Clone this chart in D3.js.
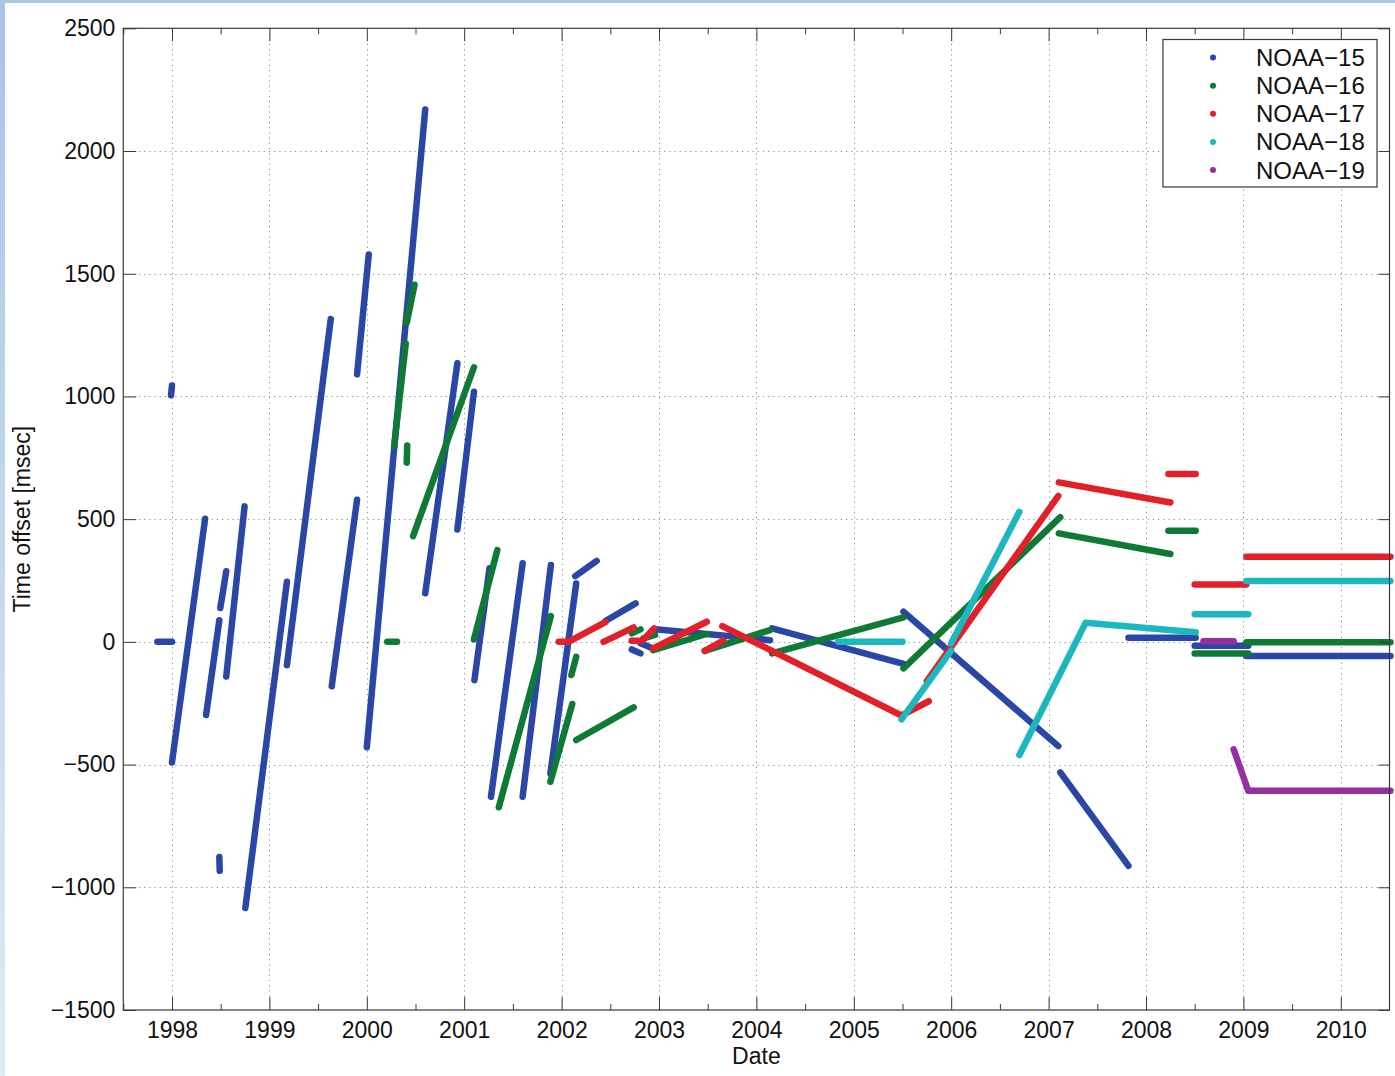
<!DOCTYPE html>
<html>
<head>
<meta charset="utf-8">
<script src="https://cdn.jsdelivr.net/npm/d3@7/dist/d3.min.js"></script>
<style>
  html, body { margin: 0; padding: 0; background: #ffffff; }
  svg { display: block; }
  text { font-family: "Liberation Sans", Arial, Helvetica, sans-serif; fill: #111; }
</style>
</head>
<body>
<svg id="chart" width="1395" height="1076"></svg>
<script>
// Satellite clock time offsets, one array of runs per satellite.
// Each run is a list of [decimal year, offset in msec] points.
const noaa15 = [
  [[1997.85, 0], [1998.0, 0]],
  [[1997.99, 1005], [1998.0, 1045]],
  [[1998.0, -491], [1998.34, 502]],
  [[1998.35, -298], [1998.486, 88]],
  [[1998.496, 138], [1998.557, 288]],
  [[1998.557, -141], [1998.745, 552]],
  [[1998.486, -877], [1998.49, -933]],
  [[1998.753, -1084], [1999.18, 245]],
  [[1999.18, -95], [1999.63, 1315]],
  [[1999.64, -181], [1999.90, 579]],
  [[1999.90, 1090], [2000.02, 1578]],
  [[2000.0, -429], [2000.60, 2169]],
  [[2000.60, 198], [2000.93, 1135]],
  [[2000.93, 458], [2001.10, 1019]],
  [[2001.105, -156], [2001.26, 300]],
  [[2001.275, -631], [2001.60, 320]],
  [[2001.60, -631], [2001.89, 313]],
  [[2001.885, -536], [2002.15, 238]],
  [[2002.14, 268], [2002.36, 330]],
  [[2002.45, 85], [2002.76, 157]],
  [[2002.72, -31], [2002.81, -47]],
  [[2002.81, -6], [2002.94, -27]],
  [[2002.96, 51], [2003.49, 32], [2004.14, 7]],
  [[2004.16, 55], [2005.51, -90]],
  [[2005.51, 123], [2007.10, -425]],
  [[2007.12, -532], [2007.82, -913]],
  [[2007.82, 17], [2008.51, 17]],
  [[2008.50, -16], [2009.05, -16]],
  [[2009.03, -58], [2010.51, -58]]
];

const noaa16 = [
  [[2000.21, 0], [2000.31, 0]],
  [[2000.28, 795], [2000.40, 1215]],
  [[2000.41, 1300], [2000.49, 1455]],
  [[2000.41, 730], [2000.415, 800]],
  [[2000.475, 431], [2001.10, 1119]],
  [[2001.10, 10], [2001.34, 374]],
  [[2001.355, -674], [2001.89, 105]],
  [[2001.885, -570], [2002.11, -253]],
  [[2002.10, -135], [2002.15, -61]],
  [[2002.15, -400], [2002.74, -267]],
  [[2002.72, 35], [2002.81, 51]],
  [[2002.84, 14], [2002.96, 28]],
  [[2002.94, -34], [2003.49, 32]],
  [[2003.47, -37], [2004.14, 48]],
  [[2004.16, -47], [2005.51, 100]],
  [[2005.51, -108], [2007.12, 508]],
  [[2007.105, 442], [2008.25, 358]],
  [[2008.23, 453], [2008.51, 453]],
  [[2008.50, -47], [2009.05, -47]],
  [[2009.03, -2], [2010.51, -2]]
];

const noaa17 = [
  [[2001.97, 0], [2002.07, 0], [2002.45, 80]],
  [[2002.43, 0], [2002.74, 59]],
  [[2002.72, 5], [2002.83, 5], [2002.95, 55]],
  [[2002.94, -27], [2003.49, 82]],
  [[2003.47, -37], [2003.66, 5]],
  [[2003.65, 64], [2005.49, -300], [2005.77, -242]],
  [[2005.75, -160], [2007.10, 595]],
  [[2007.105, 650], [2008.25, 568]],
  [[2008.23, 684], [2008.51, 684]],
  [[2008.50, 234], [2009.03, 234]],
  [[2009.03, 347], [2010.51, 347]]
];

const noaa18 = [
  [[2004.84, 0], [2005.50, 0]],
  [[2005.49, -316], [2006.0, -36]],
  [[2006.0, -6], [2006.70, 530]],
  [[2006.70, -461], [2007.38, 78], [2008.51, 39]],
  [[2008.50, 113], [2009.05, 113]],
  [[2009.03, 248], [2010.51, 248]]
];

const noaa19 = [
  [[2008.59, 3], [2008.90, 3]],
  [[2008.90, -438], [2009.05, -607], [2010.51, -607]]
];

const seriesNames = ["NOAA\u221215", "NOAA\u221216", "NOAA\u221217", "NOAA\u221218", "NOAA\u221219"];
const seriesData = [noaa15, noaa16, noaa17, noaa18, noaa19];
const seriesColors = ["#2a47a6", "#0f7a35", "#e2202a", "#1cb8bf", "#9630a0"];

const yearTicks = [1998, 1999, 2000, 2001, 2002, 2003, 2004, 2005, 2006, 2007, 2008, 2009, 2010];
const halfYearTicks = [1997.5, 1998.5, 1999.5, 2000.5, 2001.5, 2002.5, 2003.5, 2004.5, 2005.5, 2006.5, 2007.5, 2008.5, 2009.5];
const offsetTicks = [-1500, -1000, -500, 0, 500, 1000, 1500, 2000, 2500];

const xLabel = "Date";
const yLabel = "Time offset [msec]";

// ---- layout ----
const W = 1395, H = 1076;
const plot = { left: 123.3, right: 1389.5, top: 28.3, bottom: 1010 };

const svg = d3.select("#chart");

// page background with the pale blue frame along the top and left
const defs = svg.append("defs");
const grad = defs.append("linearGradient").attr("id", "edge").attr("x1", 0).attr("y1", 0).attr("x2", 0).attr("y2", 1);
grad.append("stop").attr("offset", "0%").attr("stop-color", "#a7c5e6");
grad.append("stop").attr("offset", "100%").attr("stop-color", "#e2e9f4");
svg.append("rect").attr("width", W).attr("height", H).attr("fill", "#ffffff");
svg.append("rect").attr("x", 0).attr("y", 0).attr("width", 5).attr("height", H).attr("fill", "url(#edge)");
svg.append("rect").attr("x", 0).attr("y", 0).attr("width", W).attr("height", 3).attr("fill", "#a9c6e6");

const x = d3.scaleLinear().domain([1997.5, 2010.5]).range([plot.left, plot.right]);
const y = d3.scaleLinear().domain([-1500, 2500]).range([plot.bottom, plot.top]);

// dotted grid
const grid = svg.append("g").attr("stroke", "#8c8c8c").attr("stroke-width", 1)
  .attr("stroke-dasharray", "1.2,4").attr("fill", "none");
grid.selectAll("line.v").data(yearTicks).join("line").attr("class", "v")
  .attr("x1", d => Math.round(x(d)) + 0.5).attr("x2", d => Math.round(x(d)) + 0.5)
  .attr("y1", plot.top).attr("y2", plot.bottom);
grid.selectAll("line.h").data(offsetTicks.slice(1, -1)).join("line").attr("class", "h")
  .attr("y1", d => Math.round(y(d)) + 0.5).attr("y2", d => Math.round(y(d)) + 0.5)
  .attr("x1", plot.left).attr("x2", plot.right);

// data runs
const line = d3.line().x(d => x(d[0])).y(d => y(d[1]));
const marks = svg.append("g").attr("fill", "none").attr("stroke-width", 6.5)
  .attr("stroke-linecap", "round").attr("stroke-linejoin", "round");
seriesData.forEach((runs, i) => {
  marks.append("g").attr("stroke", seriesColors[i])
    .selectAll("path").data(runs).join("path").attr("d", line);
});

// axes, ticks pointing inward on all four sides
const axisColor = "#3a3a3a";
function styleAxis(g) {
  g.select(".domain").remove();
  g.selectAll(".tick line").attr("stroke", axisColor);
  g.selectAll(".tick text").attr("fill", "#111").style("font-size", "23px")
    .style("font-family", "'Liberation Sans', Arial, Helvetica, sans-serif");
}

svg.append("g").attr("transform", `translate(0,${plot.bottom})`)
  .call(d3.axisBottom(x).tickValues(yearTicks).tickFormat(d3.format("d")).tickSize(-13).tickPadding(11.5))
  .call(styleAxis);
svg.append("g").attr("transform", `translate(0,${plot.bottom})`)
  .call(d3.axisBottom(x).tickValues(halfYearTicks).tickFormat("").tickSize(-6))
  .call(styleAxis);
svg.append("g").attr("transform", `translate(0,${plot.top})`)
  .call(d3.axisTop(x).tickValues(yearTicks).tickFormat("").tickSize(-13))
  .call(styleAxis);
svg.append("g").attr("transform", `translate(0,${plot.top})`)
  .call(d3.axisTop(x).tickValues(halfYearTicks).tickFormat("").tickSize(-6))
  .call(styleAxis);
svg.append("g").attr("transform", `translate(${plot.left},0)`)
  .call(d3.axisLeft(y).tickValues(offsetTicks).tickFormat(d3.format("d")).tickSize(-13).tickPadding(8))
  .call(styleAxis);
svg.append("g").attr("transform", `translate(${plot.right},0)`)
  .call(d3.axisRight(y).tickValues(offsetTicks).tickFormat("").tickSize(-11))
  .call(styleAxis);

// plot box
svg.append("rect")
  .attr("x", plot.left).attr("y", plot.top)
  .attr("width", plot.right - plot.left).attr("height", plot.bottom - plot.top)
  .attr("fill", "none").attr("stroke", axisColor).attr("stroke-width", 1.2);

// axis titles
svg.append("text").attr("x", (plot.left + plot.right) / 2).attr("y", 1064)
  .attr("text-anchor", "middle").style("font-size", "23px").text(xLabel);
svg.append("text").attr("transform", `translate(30,${(plot.top + plot.bottom) / 2}) rotate(-90)`)
  .attr("text-anchor", "middle").style("font-size", "23px").text(yLabel);

// legend
const legend = svg.append("g");
legend.append("rect").attr("x", 1163).attr("y", 39.5).attr("width", 214).attr("height", 147.5)
  .attr("fill", "#ffffff").attr("stroke", axisColor).attr("stroke-width", 1.2);
const rowY = d3.scaleLinear().domain([0, 4]).range([57.5, 170]);
const rows = legend.selectAll("g.row").data(seriesNames).join("g").attr("class", "row")
  .attr("transform", (d, i) => `translate(0,${rowY(i)})`);
rows.append("circle").attr("cx", 1213).attr("cy", 0).attr("r", 3)
  .attr("fill", (d, i) => seriesColors[i]);
rows.append("text").attr("x", 1256).attr("y", 8.5).style("font-size", "24px").text(d => d);
</script>
</body>
</html>
